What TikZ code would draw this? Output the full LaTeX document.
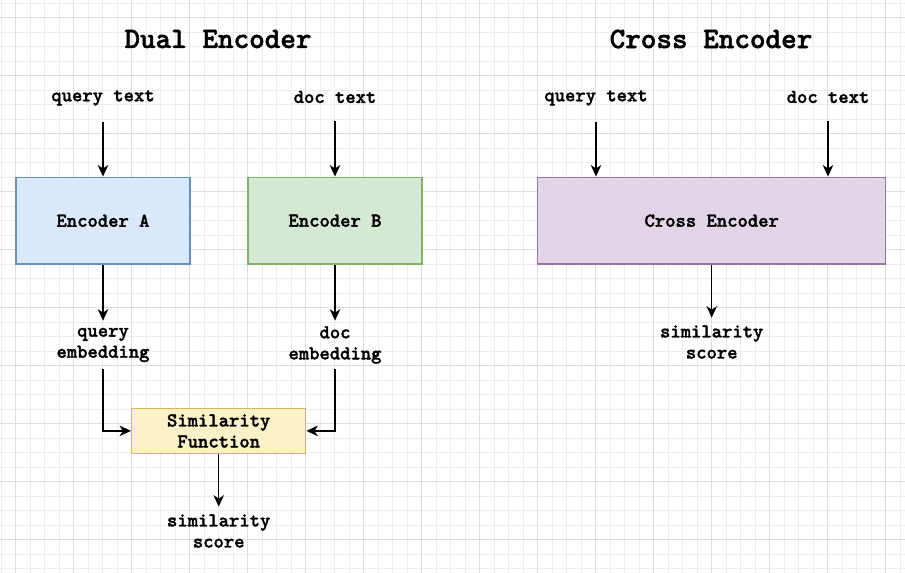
\documentclass[tikz,border=0pt]{standalone}
\usepackage{fontspec}
\newfontfamily\codefont{lmmonolt10-bold.otf}[FakeBold=1.6]
\usepackage{xcolor}
\usetikzlibrary{positioning, arrows.meta}

\definecolor{blueFill}{HTML}{DAE8FC}
\definecolor{blueLine}{HTML}{6C8EBF}
\definecolor{greenFill}{HTML}{D5E8D4}
\definecolor{greenLine}{HTML}{82B366}
\definecolor{yellowFill}{HTML}{FBF1C8}
\definecolor{yellowLine}{HTML}{D6B656}
\definecolor{purpleFill}{HTML}{E1D5E7}
\definecolor{purpleLine}{HTML}{9673A6}

\tikzset{
  txt/.style={font=\codefont\fontsize{11.2}{12}\selectfont, align=center},
  lbl/.style={txt, inner sep=0pt, minimum height=0.96cm},
  ttl/.style={font=\codefont\fontsize{16.9}{19}\selectfont},
  encbox/.style={txt, draw, line width=0.8pt, minimum width=3.48cm, minimum height=1.74cm},
  arr/.style={-{Stealth[length=2.3mm, width=2.1mm, inset=0.7mm]}, line width=0.8pt}
}

\begin{document}
\begin{tikzpicture}[x=0.02cm, y=-0.02cm]
    \useasboundingbox (0,0) rectangle (905,573);
    \fill [white] (0,0) rectangle (905,573);          % page
    % background grid
    \foreach \k in {0,...,62} \draw [black!7, line width=0.4pt] (1.2+14.5*\k,0) -- (1.2+14.5*\k,573);
    \foreach \k in {0,...,39} \draw [black!7, line width=0.4pt] (0,3.2+14.5*\k) -- (905,3.2+14.5*\k);
    \foreach \k in {0,...,15} \draw [black!13, line width=0.4pt] (15.7+58*\k,0) -- (15.7+58*\k,573);
    \foreach \k in {0,...,9} \draw [black!13, line width=0.4pt] (0,17.7+58*\k) -- (905,17.7+58*\k);

    % dual encoder
    \node [ttl] (dualTitle) at (218,39) {Dual Encoder};
    \node [lbl] (queryText) at (103,98) {query text};
    \node [lbl] (docText) at (335,97) {doc text};
    \node [encbox, fill=blueFill, draw=blueLine] (encA) at (103,220.7) {Encoder A};
    \node [encbox, fill=greenFill, draw=greenLine] (encB) at (335,220.7) {Encoder B};
    \node [lbl] (queryEmb) at (103,345) {query\\embedding};
    \node [lbl] (docEmb) at (335,345) {doc\\embedding};
    \node [encbox, fill=yellowFill, draw=yellowLine, minimum height=0.87cm] (simFn) at (218.7,430.9) {Similarity\\Function};
    \node [lbl] (simScore) at (218.7,531) {similarity\\score};

    \draw [arr] (queryText) -- (encA);
    \draw [arr] (docText) -- (encB);
    \draw [arr] (encA) -- (queryEmb);
    \draw [arr] (encB) -- (docEmb);
    \draw [arr] (queryEmb.south) |- (simFn.west);
    \draw [arr] (docEmb.south) |- (simFn.east);
    \draw [arr] (simFn) -- (simScore);

    % cross encoder
    \node [ttl] (crossTitle) at (711,39) {Cross Encoder};
    \node [lbl] (crossQuery) at (596,98) {query text};
    \node [lbl] (crossDoc) at (828,97) {doc text};
    \node [encbox, fill=purpleFill, draw=purpleLine, minimum width=6.96cm] (crossEnc) at (711.7,220.7) {Cross Encoder};
    \node [lbl] (crossScore) at (711.7,342) {similarity\\score};

    \draw [arr] (crossQuery.south) -- (crossQuery.south |- crossEnc.north);
    \draw [arr] (crossDoc.south) -- (crossDoc.south |- crossEnc.north);
    \draw [arr] (crossEnc) -- (crossScore);
\end{tikzpicture}
\end{document}
